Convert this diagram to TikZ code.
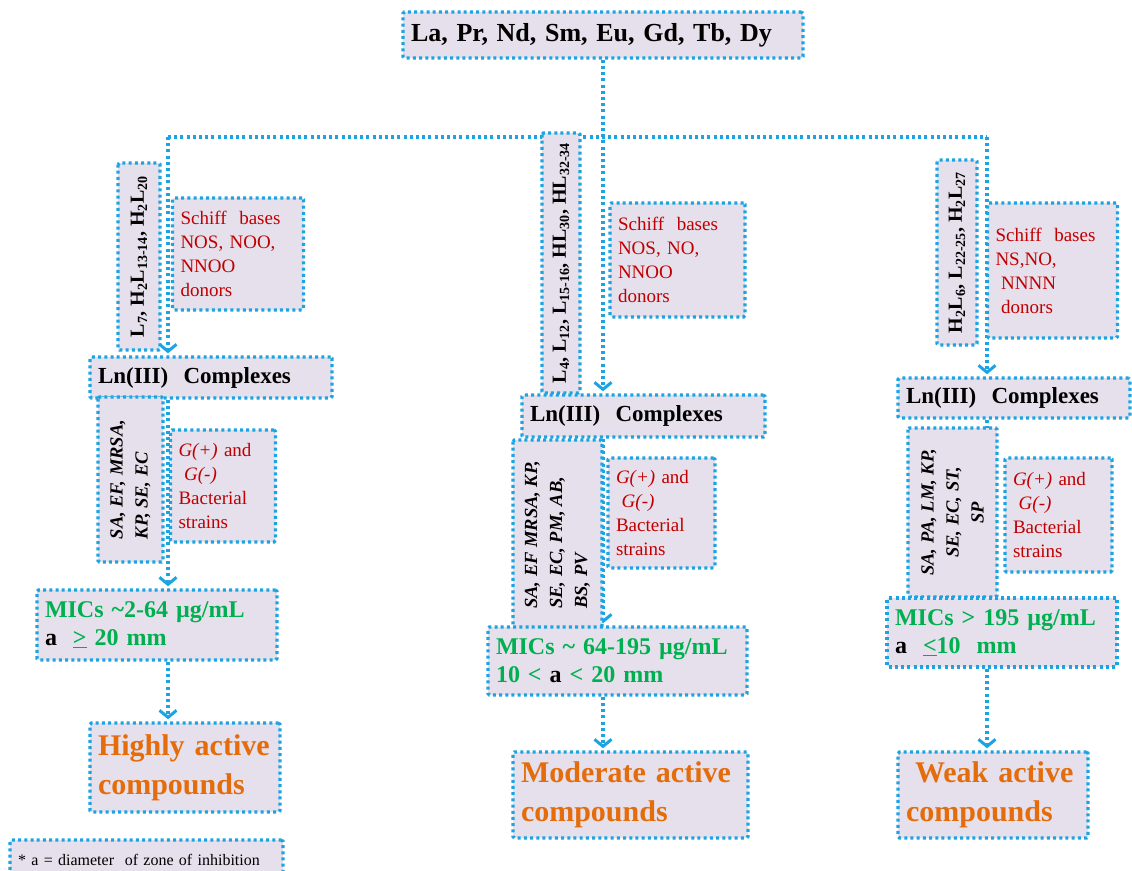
\documentclass[tikz,border=0pt]{standalone}
\usepackage{fontspec}
\setmainfont{Liberation Serif}
\usepackage{tikz}
\usetikzlibrary{arrows.meta,backgrounds}

\definecolor{dotblue}{RGB}{28,164,226}
\definecolor{boxfill}{RGB}{229,224,236}
\definecolor{schiffred}{RGB}{192,0,0}
\definecolor{micgreen}{RGB}{0,176,80}
\definecolor{resorange}{RGB}{228,108,10}

\tikzset{
  box/.style={draw=dotblue, fill=boxfill, line width=3.4pt, dash pattern=on 3pt off 3.2pt, rounded corners=1.5pt, inner xsep=8pt, align=left},
  link/.style={draw=dotblue, line width=3.4pt, dash pattern=on 3pt off 3.2pt},
  arr/.style={link, -{Straight Barb[length=7pt,width=17pt,line width=3pt]}, shorten >=2pt},
  headtext/.style={font=\fontsize{26}{30}\selectfont\bfseries},
  lntext/.style={font=\fontsize{23}{26}\selectfont\bfseries},
  ligtext/.style={font=\fontsize{20}{24}\selectfont\bfseries, rotate=90, align=center},
  schifftext/.style={font=\fontsize{19}{24}\selectfont, text=schiffred},
  bacttext/.style={font=\fontsize{18.5}{25}\selectfont\bfseries\itshape, rotate=90},
  micstext/.style={font=\fontsize{24}{28}\selectfont\bfseries, text=micgreen},
  restext/.style={font=\fontsize{30}{39}\selectfont\bfseries, text=resorange},
  notetext/.style={font=\fontsize{16}{19}\selectfont}
}

\begin{document}
\begin{tikzpicture}[x=1pt, y=-1pt]
        \useasboundingbox (0,0) rectangle (1132,870);

        % Kopf
        \node[box, headtext, text width=384pt, minimum height=46pt] (top) at (603,35) {La, Pr, Nd, Sm, Eu, Gd, Tb, Dy};
        \coordinate (busL) at (168,137);
        \coordinate (busR) at (987,137);

        % linke Spalte
        \node[box, ligtext, minimum width=187pt, minimum height=42pt] (ligA) at (139,256.5) {L\textsubscript{7}, H\textsubscript{2}L\textsubscript{13-14}, H\textsubscript{2}L\textsubscript{20}};
        \node[box, schifftext, text width=115pt, minimum height=112pt] (schA) at (238,254) {Schiff\ \ bases\\ NOS, NOO,\\ NNOO\\ donors};
        \node[box, lntext, text width=226pt, minimum height=41pt] (lnA) at (211,377.5) {Ln(III)\ \ Complexes};
        \node[box, bacttext, minimum width=165pt, minimum height=65pt] (bacA) at (130.5,479.5) {SA, EF, MRSA,\\ KP, SE, EC};
        \node[box, schifftext, text width=89pt, minimum height=112pt] (gA) at (223,486) {\textit{G(+)} and\\ \hspace{0.3em}\textit{G(-)}\\ Bacterial\\ strains};
        \node[box, micstext, text width=224pt, minimum height=70pt] (micA) at (157,625) {MICs \textasciitilde2-64 µg/mL\\ \textcolor{black}{a}\ \ \underline{>}\ 20 mm};
        \node[box, restext, text width=174pt, minimum height=89pt] (resA) at (185,767.5) {Highly active\\ compounds};
        \node[box, notetext, text width=257pt, minimum height=40pt] (note) at (146.5,860) {* a = diameter\ \ of\ zone\ of inhibition};

        % mittlere Spalte
        \node[box, ligtext, minimum width=260pt, minimum height=38pt] (ligB) at (561,263) {L\textsubscript{4}, L\textsubscript{12}, L\textsubscript{15-16}, HL\textsubscript{30}, HL\textsubscript{32-34}};
        \node[box, schifftext, text width=119pt, minimum height=114pt] (schB) at (677.5,260) {Schiff\ \ bases\\ NOS, NO,\\ NNOO\\ donors};
        \node[box, lntext, text width=227pt, minimum height=42pt] (lnB) at (643.5,416) {Ln(III)\ \ Complexes};
        \node[box, bacttext, minimum width=190pt, minimum height=89pt] (bacB) at (557.5,535) {SA, EF MRSA, KP,\\ SE, EC, PM, AB,\\ BS, PV};
        \node[box, schifftext, text width=91pt, minimum height=110pt] (gB) at (661.5,513) {\textit{G(+)} and\\ \hspace{0.3em}\textit{G(-)}\\ Bacterial\\ strains};
        \node[box, micstext, text width=243pt, minimum height=68pt] (micB) at (617.5,661) {MICs \textasciitilde\ 64-195 µg/mL\\ 10 < \textcolor{black}{a} < 20 mm};
        \node[box, restext, text width=219pt, minimum height=86pt] (resB) at (630.5,795) {Moderate active\\ compounds};

        % rechte Spalte
        \node[box, ligtext, minimum width=185pt, minimum height=40pt] (ligC) at (957,252.5) {H\textsubscript{2}L\textsubscript{6}, L\textsubscript{22-25}, H\textsubscript{2}L\textsubscript{27}};
        \node[box, schifftext, text width=114pt, minimum height=135pt] (schC) at (1052.5,270.5) {Schiff\ \ bases\\ NS,NO,\\ \hspace{0.3em}NNNN\\ \hspace{0.3em}donors};
        \node[box, lntext, text width=216pt, minimum height=40pt] (lnC) at (1014,398) {Ln(III)\ \ Complexes};
        \node[box, bacttext, align=center, minimum width=169pt, minimum height=89pt] (bacC) at (952.5,512.5) {SA, PA, LM, KP,\\ SE, EC, ST,\\ SP};
        \node[box, schifftext, text width=91pt, minimum height=114pt] (gC) at (1058.5,515) {\textit{G(+)} and\\ \hspace{0.3em}\textit{G(-)}\\ Bacterial\\ strains};
        \node[box, micstext, text width=214pt, minimum height=69pt] (micC) at (1002,632.5) {MICs > 195 µg/mL\\ \textcolor{black}{a}\ \ \underline{<}10\ \ mm};
        \node[box, restext, text width=174pt, minimum height=86pt] (resC) at (993,795) {\hspace{0.3em}Weak active\\ compounds};

        % Pfeile
        \begin{scope}[on background layer]
            \draw[link] (busL) -- (busR);
            \draw[arr] (top.south) -- (top.south |- lnB.north);
            \draw[arr] (busL) -- (busL |- lnA.north);
            \draw[arr] (busR) -- (busR |- lnC.north);
            \draw[arr] (busL |- lnA.south) -- (busL |- micA.north);
            \draw[arr] (top.south |- lnB.south) -- (top.south |- micB.north);
            \draw[arr] (busR |- lnC.south) -- (busR |- micC.north);
            \draw[arr] (busL |- micA.south) -- (busL |- resA.north);
            \draw[arr] (top.south |- micB.south) -- (top.south |- resB.north);
            \draw[arr] (busR |- micC.south) -- (busR |- resC.north);
        \end{scope}

\end{tikzpicture}
\end{document}
